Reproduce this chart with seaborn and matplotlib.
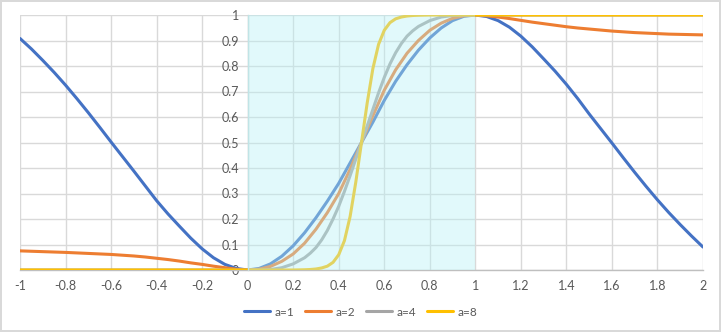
import numpy as np
import pandas as pd
import matplotlib
matplotlib.use("Agg")
import matplotlib.pyplot as plt
from matplotlib.lines import Line2D
import seaborn as sns

# ---------------- data ----------------
x_left = [-1.0, -0.95, -0.9, -0.85, -0.8, -0.75, -0.7, -0.65, -0.6, -0.55,
          -0.5, -0.45, -0.4, -0.35, -0.3, -0.25, -0.2, -0.15, -0.1, -0.05]
x_right = [1.05, 1.1, 1.15, 1.2, 1.25, 1.3, 1.35, 1.4, 1.45, 1.5,
           1.55, 1.6, 1.65, 1.7, 1.75, 1.8, 1.85, 1.9, 1.95, 2.0]
x_in = [0.0, 0.05, 0.1, 0.15, 0.2, 0.25, 0.3, 0.35, 0.4, 0.45, 0.5,
        0.55, 0.6, 0.65, 0.7, 0.75, 0.8, 0.85, 0.9, 0.95, 1.0]
x_in_fine = [0.0, 0.05, 0.1, 0.15, 0.2, 0.25, 0.275, 0.3, 0.325, 0.35, 0.375, 0.4,
             0.425, 0.45, 0.475, 0.5, 0.525, 0.55, 0.575, 0.6, 0.625, 0.65,
             0.675, 0.7, 0.725, 0.75, 0.8, 0.85, 0.9, 0.95, 1.0]

a1_left = [0.908, 0.867, 0.822, 0.775, 0.725, 0.672, 0.617, 0.56, 0.502, 0.445,
           0.388, 0.33, 0.272, 0.22, 0.172, 0.125, 0.083, 0.048, 0.022, 0.006]
a1_in = [0.0, 0.006, 0.024, 0.054, 0.095, 0.146, 0.205, 0.27, 0.34, 0.42, 0.5,
         0.58, 0.665, 0.74, 0.805, 0.862, 0.91, 0.949, 0.978, 0.995, 1.0]
a1_right = [0.994, 0.978, 0.952, 0.917, 0.875, 0.828, 0.78, 0.728, 0.672, 0.612,
            0.555, 0.498, 0.44, 0.383, 0.328, 0.275, 0.225, 0.178, 0.133, 0.09]

a2_left = [0.075, 0.0735, 0.072, 0.0705, 0.069, 0.067, 0.065, 0.063, 0.061, 0.058,
           0.055, 0.051, 0.046, 0.041, 0.035, 0.028, 0.022, 0.015, 0.009, 0.003]
a2_in = [0.0, 0.003, 0.014, 0.034, 0.063, 0.105, 0.16, 0.225, 0.3, 0.395, 0.5,
         0.605, 0.705, 0.785, 0.85, 0.9, 0.94, 0.968, 0.987, 0.997, 1.0]
a2_right = [0.997, 0.992, 0.986, 0.979, 0.972, 0.966, 0.96, 0.954, 0.949, 0.945,
            0.941, 0.937, 0.934, 0.931, 0.929, 0.927, 0.925, 0.924, 0.923, 0.922]

a4_left = [0.0] * 20
a4_in = [0.0, 0.0, 0.002, 0.009, 0.024, 0.048, 0.066, 0.088, 0.118, 0.155, 0.2, 0.25,
         0.308, 0.37, 0.435, 0.5, 0.565, 0.63, 0.695, 0.755, 0.808, 0.852,
         0.888, 0.917, 0.938, 0.955, 0.978, 0.992, 0.998, 1.0, 1.0]
a4_right = [1.0] * 20

a8_left = [0.0] * 20
a8_in = [0.0, 0.0, 0.0, 0.0, 0.0, 0.001, 0.002, 0.004, 0.008, 0.015, 0.03, 0.06,
         0.115, 0.21, 0.345, 0.5, 0.655, 0.79, 0.885, 0.94, 0.97, 0.985,
         0.992, 0.996, 0.998, 0.999, 1.0, 1.0, 1.0, 1.0, 1.0]
a8_right = [1.0] * 20

series_names = ["a=1", "a=2", "a=4", "a=8"]
colors = ["#4472C4", "#ED7D31", "#A5A5A5", "#FFC000"]

x_ticks = [-1, -0.8, -0.6, -0.4, -0.2, 0, 0.2, 0.4, 0.6, 0.8, 1, 1.2, 1.4, 1.6, 1.8, 2]
x_tick_labels = ["-1", "-0.8", "-0.6", "-0.4", "-0.2", "0", "0.2", "0.4", "0.6", "0.8",
                 "1", "1.2", "1.4", "1.6", "1.8", "2"]
y_ticks = [0, 0.1, 0.2, 0.3, 0.4, 0.5, 0.6, 0.7, 0.8, 0.9, 1]
y_tick_labels = ["0", "0.1", "0.2", "0.3", "0.4", "0.5", "0.6", "0.7", "0.8", "0.9", "1"]

shade_start, shade_end = 0.0, 1.0

# ---------------- build table ----------------
frames = []
for name, xs, ys in [
    ("a=1", x_left + x_in + x_right, a1_left + a1_in + a1_right),
    ("a=2", x_left + x_in + x_right, a2_left + a2_in + a2_right),
    ("a=4", x_left + x_in_fine + x_right, a4_left + a4_in + a4_right),
    ("a=8", x_left + x_in_fine + x_right, a8_left + a8_in + a8_right),
]:
    frames.append(pd.DataFrame({"x": xs, "y": ys, "series": name}))
df = pd.concat(frames, ignore_index=True)

# ---------------- plot ----------------
sns.set_theme(style="white")
plt.rcParams["font.family"] = ["Lato", "DejaVu Sans"]

fig = plt.figure(figsize=(7.21, 3.32), dpi=100)
fig.patch.set_edgecolor("#D9D9D9")
fig.patch.set_linewidth(1.5)
ax = fig.add_axes([20 / 721, 1 - 270 / 332, (703 - 20) / 721, (270 - 15) / 332])

ax.set_xlim(-1, 2)
ax.set_ylim(0, 1)
ax.set_xticks(x_ticks)
ax.set_xticklabels(x_tick_labels)
ax.set_yticks(y_ticks)
ax.set_yticklabels(y_tick_labels)
ax.grid(True, color="#D9D9D9", linewidth=1.0, zorder=0)
ax.set_axisbelow(True)

sns.lineplot(data=df, x="x", y="y", hue="series", hue_order=series_names,
             palette=dict(zip(series_names, colors)), sort=False,
             estimator=None, linewidth=2.2, ax=ax, legend=False)
for ln in ax.get_lines():
    ln.set_solid_joinstyle("round")
    ln.set_zorder(2)

ax.axvspan(shade_start, shade_end, color="#B6F2F5", alpha=0.4, lw=0, zorder=3)

for s in ["top", "right"]:
    ax.spines[s].set_visible(False)
ax.spines["left"].set_position(("data", 0))
ax.spines["left"].set_color("#C8DCDD")
ax.spines["left"].set_linewidth(1.0)
ax.spines["bottom"].set_color("#BFBFBF")
ax.spines["bottom"].set_linewidth(1.0)
ax.spines["bottom"].set_zorder(1)

ax.tick_params(axis="both", length=0, labelsize=9, colors="#595959")
ax.tick_params(axis="y", pad=6)
ax.tick_params(axis="x", pad=7)
ax.set_xlabel("")
ax.set_ylabel("")

handles = [Line2D([0], [0], color=c, lw=2.2) for c in colors]
fig.legend(handles, series_names, loc="center", bbox_to_anchor=(0.5, 1 - 312 / 332),
           ncol=4, frameon=False, fontsize=8.5, handlelength=2.2, handletextpad=0.35,
           columnspacing=0.95, labelcolor="#595959")

fig.savefig("out.png", dpi=100)
